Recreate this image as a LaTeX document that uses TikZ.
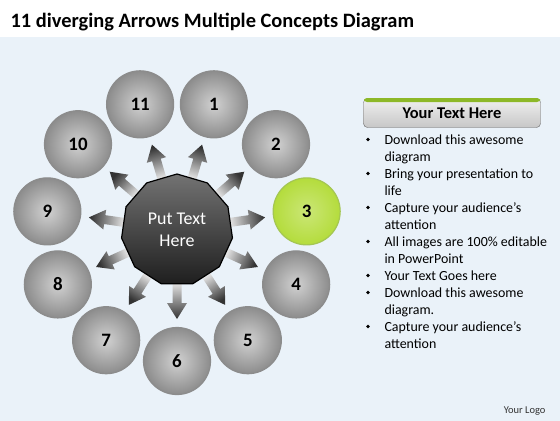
\documentclass[tikz,border=0pt]{standalone}
\usepackage{fontspec}
\setmainfont{Carlito}
\usetikzlibrary{shapes.geometric,calc}

\definecolor{pale}{HTML}{EAF2F9}
\definecolor{lime}{HTML}{B4DC3C}
\definecolor{limedark}{HTML}{8DB828}

\tikzset{
  ball/.style={circle, minimum size=67bp, inner sep=0pt, draw=black!45, line width=1.2bp,
    inner color=black!18, outer color=black!45, font=\fontsize{19}{20}\selectfont\bfseries},
  greenball/.style={ball, draw=limedark!80, inner color=lime!70, outer color=lime},
  spoke/.style={left color=black!5, right color=black!80, shading angle=90+#1},
  bullet/.style={anchor=base west, font=\fontsize{14}{16}\selectfont},
}

\begin{document}
\begin{tikzpicture}[x=1bp, y=-1bp]
  \useasboundingbox (0,0) rectangle (560,420);
  % background
  \fill[white] (0,0) rectangle (560,37);
  \shade[left color=pale, middle color=white, right color=pale] (0,37) rectangle (560,420);
  \node[anchor=base west, font=\fontsize{20.5}{22}\selectfont\bfseries] (title) at (7,27)
    {11 diverging Arrows Multiple Concepts Diagram};

  % hub and balls
  \coordinate (o) at (177,230);
  \foreach \i in {1,...,11} {
    \pgfmathsetmacro\ang{-90-32.727*(\i-6)}
    \ifnum\i=3
      \node[greenball] (c\i) at ($(o)+(\ang:131bp)$) {\i};
    \else
      \node[ball] (c\i) at ($(o)+(\ang:131bp)$) {\i};
    \fi
    % arrow from hub towards ball
    \coordinate (b) at ($(o)!50bp!(c\i)$);
    \coordinate (m) at ($(o)!73bp!(c\i)$);
    \coordinate (t) at ($(o)!89bp!(c\i)$);
    \shade[spoke=\ang] ($(b)!4.5bp!90:(c\i)$) -- ($(m)!4.5bp!90:(c\i)$) -- ($(m)!10bp!90:(c\i)$)
      -- (t) -- ($(m)!10bp!-90:(c\i)$) -- ($(m)!4.5bp!-90:(c\i)$) -- ($(b)!4.5bp!-90:(c\i)$) -- cycle;
  }
  \node[regular polygon, regular polygon sides=11, minimum size=112bp, inner sep=0pt,
    draw=black, line width=1.2bp, top color=black!55, bottom color=black!88,
    text=white, align=center, font=\fontsize{18}{22}\selectfont] (hub) at (o) {Put Text\\Here};

  % text panel
  \node[draw=black!60, rounded corners=4bp, minimum width=177bp, minimum height=29bp,
    top color=black!6, bottom color=black!22, font=\fontsize{16.5}{18}\selectfont\bfseries]
    (head) at (452,113) {Your Text Here};
  \fill[limedark, rounded corners=3bp] (364,98) rectangle (540,102);
  \foreach \t/\y/\b [count=\k] in {Download this awesome/144/1, diagram/161/0,
      Bring your presentation to/178/1, life/195/0,
      Capture your audience’s/212/1, attention/229/0,
      All images are 100\% editable/246/1, in PowerPoint/263/0,
      Your Text Goes here/280/1, Download this awesome/297/1, diagram./314/0,
      Capture your audience’s/331/1, attention/348/0} {
    \node[bullet] (l\k) at (381,\y) {\t};
    \ifnum\b=1 \fill (368,\y-4.5) circle (1.9bp); \fi
  }
  \node[anchor=base east, font=\fontsize{10.5}{12}\selectfont, text=black!80] (logo) at (549,413) {Your Logo};
\end{tikzpicture}
\end{document}
